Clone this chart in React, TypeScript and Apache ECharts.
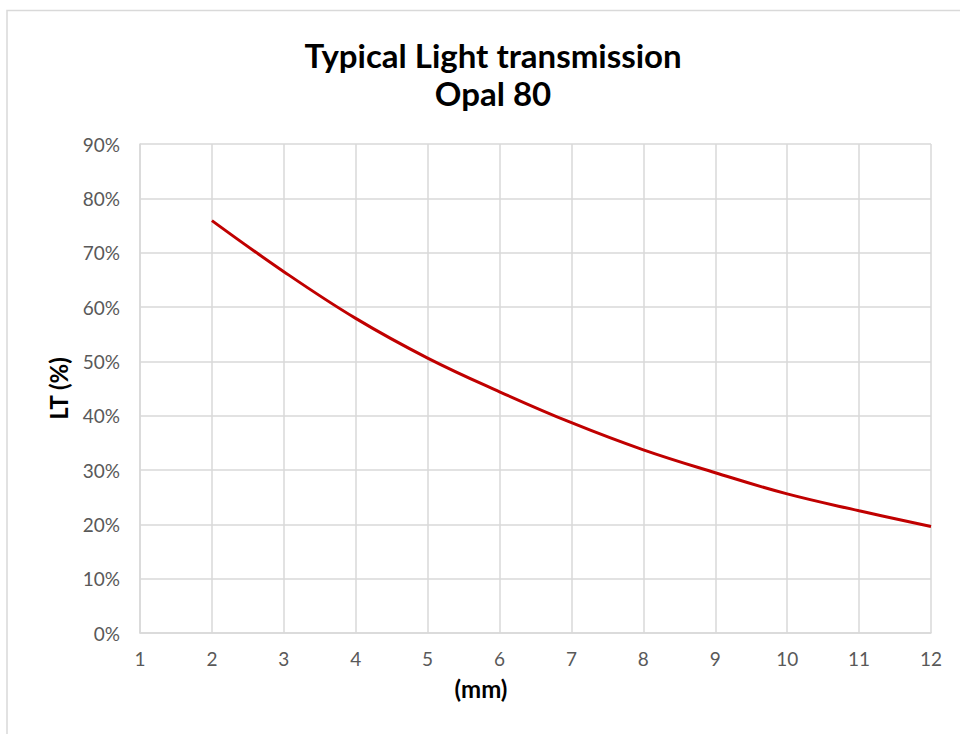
import React, { useEffect, useRef } from "react";
import * as echarts from "echarts";

const titleLines = ["Typical Light transmission", "Opal 80"];
const thicknessMm = [2, 3, 4, 5, 6, 7, 8, 9, 10, 11, 12];
const transmissionPct = [75.9, 66.5, 57.9, 50.6, 44.4, 38.7, 33.7, 29.5, 25.6, 22.5, 19.6];
const xAxisName = "(mm)";
const yAxisName = "LT (%)";

export default function App() {
  const ref = useRef<HTMLDivElement>(null);
  useEffect(() => {
    if (!ref.current) return;
    const chart = echarts.init(ref.current, undefined, { renderer: "svg" });
    const font = "Lato, 'Open Sans', sans-serif";
    chart.setOption({
      animation: false,
      backgroundColor: "#ffffff",
      title: {
        text: titleLines.join("\n"),
        left: 488,
        top: 31,
        textAlign: "center",
        textStyle: {
          fontFamily: font,
          fontWeight: "bold",
          fontSize: 33,
          lineHeight: 38,
          color: "#000000",
        },
      },
      graphic: [
        {
          type: "rect",
          shape: { x: 7, y: 10.5, width: 1000, height: 800 },
          style: { fill: "none", stroke: "#d9d9d9", lineWidth: 1.5 },
          silent: true,
        },
        {
          type: "text",
          x: 481,
          y: 688,
          style: {
            text: xAxisName,
            fontFamily: font,
            fontWeight: "bold",
            fontSize: 24,
            fill: "#000000",
            align: "center",
            verticalAlign: "middle",
          },
        },
      ],
      grid: { left: 140, right: 29, top: 144, bottom: 101 },
      xAxis: {
        type: "value",
        min: 1,
        max: 12,
        interval: 1,
        axisLine: { show: true, lineStyle: { color: "#d9d9d9", width: 1.5 } },
        axisTick: { show: false },
        splitLine: { show: true, lineStyle: { color: "#d9d9d9", width: 1.5 } },
        axisLabel: {
          color: "#595959",
          fontFamily: font,
          fontSize: 19,
          margin: 16,
        },
      },
      yAxis: {
        type: "value",
        min: 0,
        max: 90,
        interval: 10,
        name: yAxisName,
        nameLocation: "middle",
        nameGap: 70,
        nameRotate: 90,
        nameTextStyle: {
          fontFamily: font,
          fontWeight: "bold",
          fontSize: 24,
          color: "#000000",
        },
        axisLine: { show: true, lineStyle: { color: "#d9d9d9", width: 1.5 } },
        axisTick: { show: false },
        splitLine: { show: true, lineStyle: { color: "#d9d9d9", width: 1.5 } },
        axisLabel: {
          color: "#595959",
          fontFamily: font,
          fontSize: 19,
          margin: 20,
          formatter: (v: number) => `${v}%`,
        },
      },
      series: [
        {
          type: "line",
          data: thicknessMm.map((x, i) => [x, transmissionPct[i]]),
          smooth: 0.4,
          showSymbol: false,
          lineStyle: { color: "#c00000", width: 3 },
          itemStyle: { color: "#c00000" },
        },
      ],
    });
    return () => chart.dispose();
  }, []);
  return (
    <div
      ref={ref}
      style={{ position: "absolute", left: 0, top: 0, width: 960, height: 734 }}
    />
  );
}
